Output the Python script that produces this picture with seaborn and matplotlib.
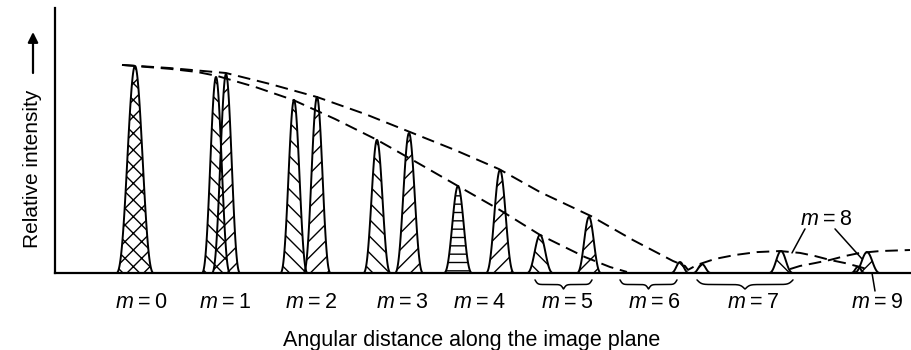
import numpy as np
import matplotlib
matplotlib.use("Agg")
import matplotlib.pyplot as plt
import seaborn as sns
from matplotlib.transforms import blended_transform_factory

# ---------------- data ----------------
# diffraction peaks: position along image plane, relative intensity
peak_pos = [0.00, 0.81, 0.91, 1.59, 1.82, 2.42, 2.74, 3.23, 3.65, 4.05, 4.54,
            5.45, 5.67, 6.46, 7.23, 7.32]
peak_height = [1.000, 0.947, 0.961, 0.836, 0.850, 0.643, 0.676, 0.420, 0.498,
               0.184, 0.271, 0.053, 0.043, 0.106, 0.030, 0.101]

# envelope of the upper dashed curve
env_b_x = [-0.13, 0.35, 0.91, 1.35, 1.82, 2.30, 2.75, 3.20, 3.64, 4.05, 4.56,
           4.98, 5.38, 5.50, 5.53, 5.62, 5.80, 6.00, 6.22, 6.45, 6.65, 6.80,
           6.95, 7.10, 7.25, 7.35]
env_b_y = [1.005, 0.990, 0.966, 0.913, 0.850, 0.768, 0.681, 0.594, 0.502,
           0.391, 0.275, 0.159, 0.058, 0.034, 0.015, 0.039, 0.068, 0.087,
           0.101, 0.106, 0.097, 0.082, 0.063, 0.048, 0.029, 0.014]
# envelope of the lower dashed curve (main lobe and side lobe)
env_a_x = [-0.13, 0.35, 0.62, 0.82, 1.20, 1.58, 2.00, 2.42, 2.83, 3.23, 3.65,
           4.05, 4.50, 4.75, 4.92]
env_a_y = [1.005, 0.986, 0.971, 0.952, 0.899, 0.836, 0.744, 0.643, 0.531,
           0.420, 0.304, 0.184, 0.077, 0.029, 0.005]
env_a2_x = [6.55, 6.65, 6.80, 6.95, 7.10, 7.25, 7.45, 7.75]
env_a2_y = [0.019, 0.034, 0.048, 0.063, 0.082, 0.097, 0.106, 0.111]

# order labels
order_labels = ["0", "1", "2", "3", "4", "5", "6", "7", "8", "9"]
label_x = [0.06, 0.90, 1.76, 2.67, 3.44, 4.32, 5.19, 6.18, 6.91, 7.42]
# braces for orders 5, 6, 7
brace_lo = [4.00, 4.85, 5.62]
brace_hi = [4.57, 5.42, 6.58]

# ---------------- styling ----------------
peak_hatch = ["xx", "\\\\", "//", "\\\\", "//", "\\\\", "//", "--", "//",
              "\\\\", "//", "\\\\", "//", "\\\\", "\\\\", "//"]
peak_halfw = [0.185, 0.14, 0.14, 0.135, 0.135, 0.135, 0.14, 0.14, 0.14,
              0.13, 0.12, 0.09, 0.09, 0.12, 0.07, 0.13]

sns.set_theme(style="white")
plt.rcParams["font.family"] = ["Liberation Sans", "DejaVu Sans"]
plt.rcParams["mathtext.fontset"] = "custom"
plt.rcParams["mathtext.rm"] = "Liberation Sans"
plt.rcParams["mathtext.it"] = "Liberation Sans:italic"
plt.rcParams["hatch.linewidth"] = 1.0
plt.rcParams["hatch.color"] = "black"

fig = plt.figure(figsize=(9.12, 3.5), dpi=100)
ax = fig.add_axes([55 / 912, 77 / 350, 855 / 912, 265 / 350])
ax.set_xlim(-0.80, 7.75)
ax.set_ylim(0, 1.28)

# peaks (sinc^2 main-lobe profile)
for c, h, hw, hatch in zip(peak_pos, peak_height, peak_halfw, peak_hatch):
    xs = np.linspace(c - hw, c + hw, 160)
    u = (xs - c) / hw
    ys = h * np.sinc(u) ** 2
    ax.fill_between(xs, ys, 0, facecolor="none", edgecolor="black",
                    hatch=hatch, lw=1.4, zorder=3)

# dashed envelopes
dash = (0, (6.5, 3.5))
for ex, ey in [(env_b_x, env_b_y), (env_a_x, env_a_y), (env_a2_x, env_a2_y)]:
    sns.lineplot(x=ex, y=ey, ax=ax, color="black", lw=1.4,
                 linestyle=dash, sort=False, zorder=4)

# axes
for s in ["top", "right"]:
    ax.spines[s].set_visible(False)
for s in ["left", "bottom"]:
    ax.spines[s].set_color("black")
    ax.spines[s].set_linewidth(1.6)
ax.set_xticks([])
ax.set_yticks([])

trans = blended_transform_factory(ax.transData, ax.transAxes)

# order labels
fs = 15.5
for lab, lx in zip(order_labels, label_x):
    txt = r"$m$" + "\u2009=\u2009" + lab
    if lab == "8":
        ax.text(lx, 0.232, txt, ha="center", va="baseline", fontsize=fs,
                color="black")
    else:
        ax.text(lx, -0.132, txt, ha="center", va="baseline", fontsize=fs,
                color="black", transform=trans, clip_on=False)

# leader lines for m = 8 and m = 9
ax.plot([6.70, 6.57], [0.213, 0.097], color="black", lw=1.1)
ax.plot([7.00, 7.27], [0.213, 0.068], color="black", lw=1.1)
ax.plot([7.37, 7.40], [0.0, -0.087], color="black", lw=1.1, clip_on=False)

# braces
def brace_curve(x0, x1, y_end, y_tip, n=200, beta=22.0):
    xs = np.linspace(x0, x1, n)
    mid = 0.5 * (x0 + x1)
    u = np.abs(xs - mid) / (0.5 * (x1 - x0))
    yn = 1 / (1 + np.exp(-beta * u)) + 1 / (1 + np.exp(-beta * (u - 1))) - 0.5
    yn = (yn - yn.min()) / (yn.max() - yn.min())
    return xs, y_tip + (y_end - y_tip) * yn

for b0, b1 in zip(brace_lo, brace_hi):
    bx, by = brace_curve(b0, b1, -0.026, -0.060)
    ax.plot(bx, by, color="black", lw=1.1, transform=trans, clip_on=False)

# axis titles
fig.text(472 / 912, 1 - 346 / 350, "Angular distance along the image plane",
         ha="center", va="baseline", fontsize=15.5, color="black")
fig.text(33 / 912, 1 - 169 / 350, "Relative intensity", rotation=90,
         ha="center", va="center", fontsize=15, color="black")
ax.annotate("", xy=(33 / 912, 1 - 32 / 350), xytext=(33 / 912, 1 - 73 / 350),
            xycoords="figure fraction", textcoords="figure fraction",
            arrowprops=dict(arrowstyle="-|>", lw=1.6, color="black",
                            mutation_scale=15, shrinkA=0, shrinkB=0))

fig.savefig("out.png", dpi=100)
